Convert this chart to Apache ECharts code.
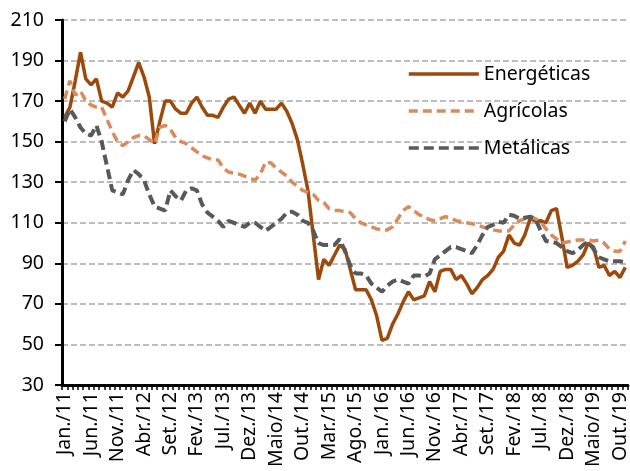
<!DOCTYPE html>
<html>
<head>
<meta charset="utf-8">
<script src="https://cdn.jsdelivr.net/npm/echarts@6/dist/echarts.min.js"></script>
<style>html,body{margin:0;padding:0;background:#fff}#c{width:630px;height:471px}</style>
</head>
<body>
<div id="c"></div>
<script>
// Month abbreviations (Portuguese) and years used to build category labels
const monthNames = ['Jan.','Fev.','Mar.','Abr.','Maio','Jun.','Jul.','Ago.','Set.','Out.','Nov.','Dez.'];
const years = ['11','12','13','14','15','16','17','18','19'];
const lastMonthIndex2019 = 10; // Nov./19

const categories = [];
years.forEach((y, yi) => {
  monthNames.forEach((m, mi) => {
    if (yi === years.length - 1 && mi > lastMonthIndex2019) return;
    categories.push(m + '/' + y);
  });
});

const yTicks = { min: 30, max: 210, interval: 20 };

const energeticas = [
  162,167,180,194,181,178,181,170,169,167,
  174,172,175,182,189,182,172,149,160,170,
  170,166,164,164,169,172,167,163,163,162,
  167,171,172,168,164,169,164,170,166,166,
  166,169,165,159,151,139,126,104,82,92,
  89,94,99,97,87,77,77,77,72,64,
  52,53,60,65,71,76,72,73,74,81,
  76,86,87,87,82,84,80,75,78,82,
  84,87,93,96,104,100,99,104,112,111,
  111,110,116,117,103,88,89,91,94,100,
  98,88,89,84,86,83,88
];

const agricolas = [
  171,180,173,175,170,168,167,167,161,155,
  150,148,150,152,153,153,151,149,157,158,
  156,152,150,149,147,145,143,142,141,141,
  137,135,134.5,134,133,132,131,134,140,139.5,
  137,135,133,130,128,126,125,124,121,120,
  117,116,116,115.5,115,112,110,109,108,107,
  106.5,106.5,108,112,116,118,116,114,113,111.5,
  111,112,113,112.5,111,110.5,110,109.5,109,108,
  107,106.5,106,106,106,109,111,112,113,112,
  110.5,107,104,102,100,100.5,101,101.5,101.5,101.5,
  101,101.5,100,97,96,96,101
];

const metalicas = [
  160,166,162,157,154,153,158,150,138,126,
  125,124,131,136,134,131,124,118,117,116,
  126,123,121,126,127,126,119,115,113,111,
  108,111,110,109,108,110,110,108,106,108,
  110,112,115,115.5,114,111,110,106,100,99,
  99,99,102,96,89,85,85,84,80,78,
  76,79,81,82,81,80,84,84,83.5,85,
  92,94,96,98,98,97,96,95,99,104,
  108,109,110.5,110,114,113.5,112,112.5,113,112,
  106,101,100.5,100,98,96,95,96.5,99,100.5,
  97,93,92,91,91,91,90.5
];

const seriesNames = ['Energéticas','Agrícolas','Metálicas'];
const FONT = '"Noto Sans", sans-serif';

const chart = echarts.init(document.getElementById('c'), null, {renderer: 'canvas'});
chart.setOption({
  animation: false,
  backgroundColor: '#ffffff',
  grid: { left: 62, right: 0, top: 20, bottom: 86, containLabel: false },
  legend: {
    orient: 'vertical',
    left: 402,
    top: 58,
    itemWidth: 70,
    itemHeight: 14,
    itemGap: 15,
    data: seriesNames,
    itemStyle: { opacity: 0 },
    lineStyle: { opacity: 1, width: 3.6 },
    textStyle: { fontFamily: FONT, fontSize: 19.5, color: '#000', lineHeight: 22 }
  },
  xAxis: {
    type: 'category',
    data: categories,
    boundaryGap: true,
    axisLine: { show: true, lineStyle: { color: '#000', width: 3 } },
    axisTick: { show: true, interval: 0, length: 5, lineStyle: { color: '#000', width: 1.5 } },
    axisLabel: { interval: 4, rotate: 90, margin: 7, fontFamily: FONT, fontSize: 19.5, color: '#000' },
    splitLine: { show: false }
  },
  yAxis: {
    type: 'value',
    min: yTicks.min, max: yTicks.max, interval: yTicks.interval,
    axisLine: { show: true, lineStyle: { color: '#000', width: 3 } },
    axisTick: { show: true, length: 7, lineStyle: { color: '#000', width: 2 } },
    axisLabel: { margin: 18, fontFamily: FONT, fontSize: 19.5, color: '#000' },
    splitLine: { show: true, lineStyle: { color: '#BDBDBD', width: 1.8, type: [6, 3] } }
  },
  series: [
    { name: seriesNames[0], type: 'line', data: energeticas, symbol: 'none', smooth: false,
      lineStyle: { color: '#9C4A0C', width: 3.5, type: 'solid' }, itemStyle: { color: '#9C4A0C' } },
    { name: seriesNames[1], type: 'line', data: agricolas, symbol: 'none', smooth: false,
      lineStyle: { color: '#DB8B5A', width: 3.5, type: [9, 5] }, itemStyle: { color: '#DB8B5A' } },
    { name: seriesNames[2], type: 'line', data: metalicas, symbol: 'none', smooth: false,
      lineStyle: { color: '#595959', width: 4, type: [10, 5] }, itemStyle: { color: '#595959' } }
  ]
});
</script>
</body>
</html>
